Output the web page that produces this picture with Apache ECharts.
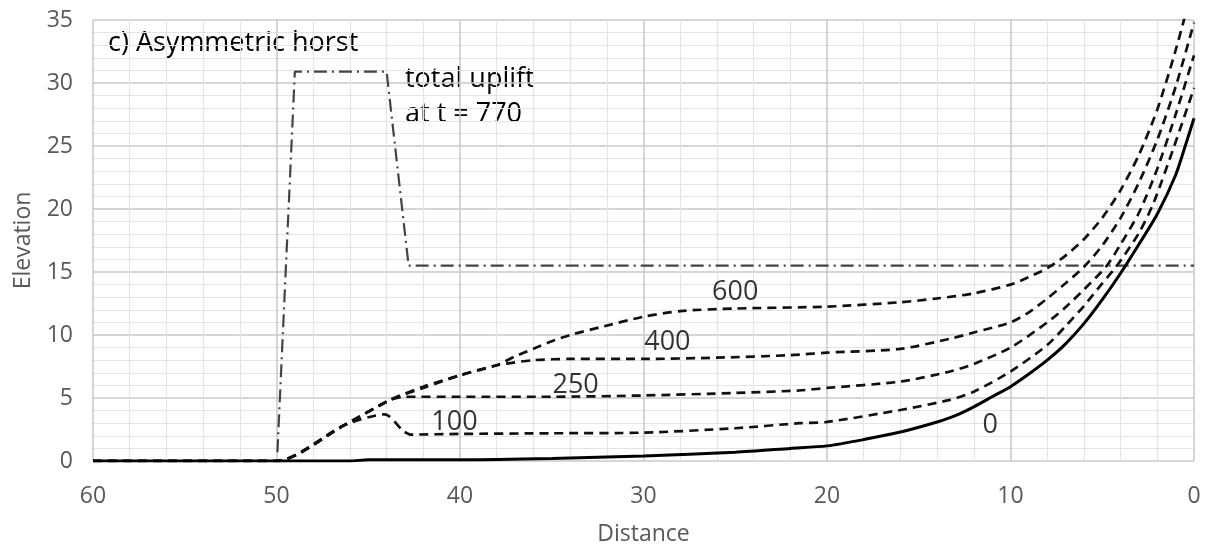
<!DOCTYPE html>
<html>
<head>
<meta charset="utf-8">
<script src="https://cdn.jsdelivr.net/npm/echarts@6/dist/echarts.min.js"></script>
<style>html,body{margin:0;padding:0;background:#fff}#c{width:1207px;height:549px}</style>
</head>
<body>
<div id="c"></div>
<script>
// [distance, elevation] pairs
const t0 = [[60,0],[50,0],[46,0],[45,0.1],[40,0.1],[35,0.2],[30,0.4],[25,0.7],[22,1.0],[20,1.2],[18,1.7],[16,2.3],[14,3.1],[13,3.6],[12,4.3],[11,5.1],[10,5.9],[9,6.9],[8,8.0],[7,9.3],[6,10.9],[5,12.8],[4,14.9],[3,17.2],[2,19.6],[1,22.7],[0.5,24.9],[0,27.2]];
const t100 = [[60,0],[50,0],[46.3,2.85],[44.1,3.7],[43.1,2.4],[42.7,2.1],[40,2.15],[35,2.2],[30,2.25],[25,2.6],[21.5,3.0],[20,3.1],[16,4.05],[13.3,4.85],[12,5.5],[10,7.1],[8,9.2],[7,10.7],[6,12.3],[5,14.1],[4.2,15.5],[3,18.1],[2.2,20.5],[1.1,24.9],[0,29.6]];
const t250 = [[60,0],[50,0],[46.3,2.85],[43.8,4.85],[43,5.1],[40,5.1],[35,5.1],[30,5.2],[25,5.4],[21.5,5.6],[20,5.8],[16,6.3],[13.3,7.1],[12,7.7],[10,9.0],[8,11.0],[7,12.2],[6,13.6],[4.75,15.5],[4,17.2],[3,19.7],[2,23.2],[1,27.5],[0,32.2]];
const t400 = [[60,0],[50,0],[46.3,2.85],[43.8,4.85],[42,5.9],[40,6.8],[38,7.6],[36,8.0],[34,8.1],[30,8.1],[26,8.2],[22,8.4],[20,8.6],[16,8.9],[13.3,9.7],[12,10.2],[10,11.0],[9,11.8],[8,12.9],[7,14.1],[6,15.4],[5,17.1],[4,19.3],[3,22.1],[2,25.5],[1,29.7],[0,34.8]];
const t600 = [[60,0],[50,0],[46.3,2.85],[43.8,4.85],[42,5.8],[40,6.8],[38,7.6],[37,8.3],[36,8.9],[35,9.5],[34,10.0],[32.4,10.6],[30,11.45],[28,11.9],[25,12.1],[20,12.25],[16,12.6],[14,12.9],[12,13.3],[10,14.0],[9,14.6],[8,15.3],[7,16.3],[6,17.6],[5,19.3],[4,21.5],[3,24.3],[2,27.9],[1,32.6],[0,38.0]];
const uplift = [[49.95,0.7],[49.0,30.9],[44.0,30.9],[42.8,15.5],[0,15.5]];
const curveLabels = [['600',25.0,13.4],['400',28.7,9.4],['250',33.7,6.0],['100',40.3,3.1],['0',11.1,2.85]];
const xTicks = [0,10,20,30,40,50,60];
const yTicks = [0,5,10,15,20,25,30,35];

const FONT = '"Open Sans", Lato, sans-serif';
const chart = echarts.init(document.getElementById('c'), null, {renderer:'canvas'});
const dashed = {color:'#111', width:2.7, type:[9,6]};
function line(name, data, style, z, smooth){
  return {name, type:'line', data, showSymbol:false, symbol:'none', smooth:smooth||false, lineStyle:style, z:z||3, clip:true, animation:false};
}
chart.setOption({
  animation:false,
  grid:{left:93, right:13, top:20, bottom:88, containLabel:false, outerBoundsMode:'none'},
  xAxis:{type:'value', min:0, max:60, interval:10, inverse:true,
    name:'Distance', nameLocation:'middle', nameGap:62,
    nameTextStyle:{fontFamily:FONT, fontSize:23, color:'#595959'},
    axisLine:{show:false}, axisTick:{show:false},
    axisLabel:{fontFamily:FONT, fontSize:23, color:'#595959', margin:24, formatter:v=>xTicks.includes(v)?String(v):''},
    splitLine:{show:true, lineStyle:{color:'#c8c8c8', width:1.5}},
    minorTick:{show:false, splitNumber:5},
    minorSplitLine:{show:true, lineStyle:{color:'#e4e4e4', width:1.2}}
  },
  yAxis:{type:'value', min:0, max:35, interval:5,
    name:'Elevation', nameLocation:'middle', nameGap:58, nameRotate:90,
    nameTextStyle:{fontFamily:FONT, fontSize:23, color:'#595959'},
    axisLine:{show:false}, axisTick:{show:false},
    axisLabel:{fontFamily:FONT, fontSize:23, color:'#595959', margin:20, formatter:v=>yTicks.includes(v)?String(v):''},
    splitLine:{show:true, lineStyle:{color:'#c8c8c8', width:1.5}},
    minorTick:{show:false, splitNumber:5},
    minorSplitLine:{show:true, lineStyle:{color:'#e4e4e4', width:1.2}}
  },
  series:[
    line('uplift', uplift, {color:'#444', width:2.2, type:[13,5,2,5]}),
    line('100', t100, dashed, 3, 0.25),
    line('250', t250, dashed, 3, 0.25),
    line('400', t400, dashed, 3, 0.25),
    line('600', t600, dashed, 3, 0.25),
    line('0', t0, {color:'#000', width:3, type:'solid'}, 4, 0.25),
    {type:'scatter', symbolSize:0, silent:true, z:5,
      data: curveLabels.map(l=>({value:[l[1],l[2]], name:l[0]})),
      label:{show:true, position:'inside', formatter:p=>p.name, fontFamily:FONT, fontSize:27, color:'#000'}}
  ],
  graphic:[
    {type:'text', left:108, top:30, style:{text:'c) Asymmetric horst', font:'27px '+FONT, fill:'#000'}},
    {type:'text', left:405, top:62, style:{text:'total uplift\nat t = 770', font:'27px '+FONT, fill:'#000', lineHeight:35}}
  ]
});
</script>
</body>
</html>
